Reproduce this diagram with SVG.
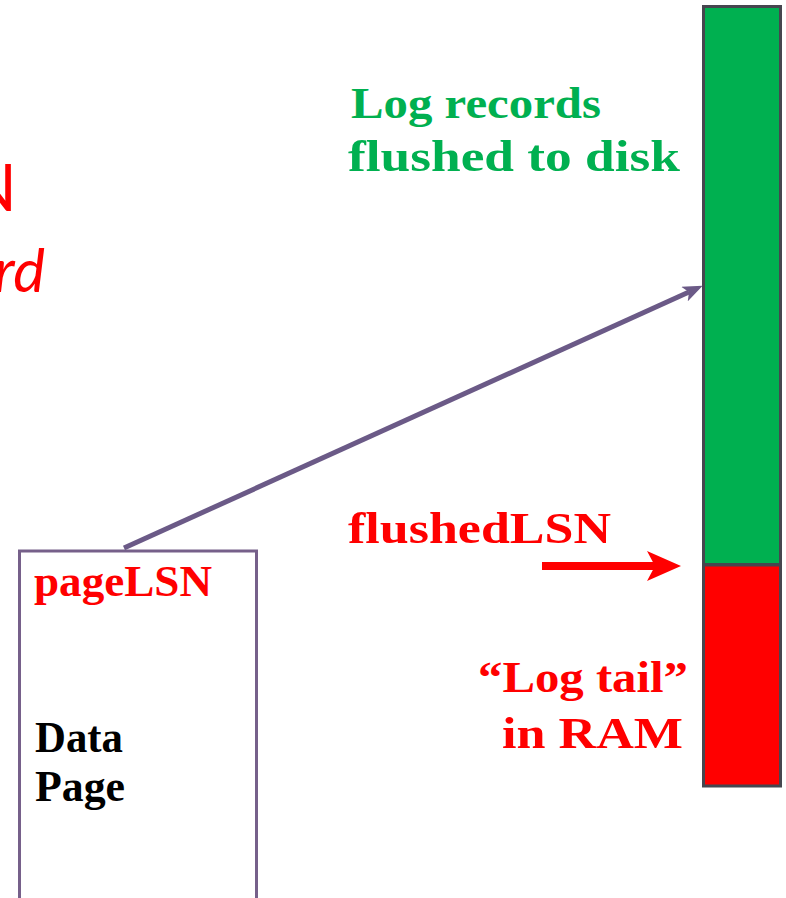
<svg xmlns="http://www.w3.org/2000/svg" width="786" height="898" viewBox="0 0 786 898">
  <style>
    .lbl { font-family: "Liberation Serif", "Times New Roman", serif; font-weight: bold; font-size: 45px; }
    .red { fill: #FF0000; }
    .green { fill: #00B050; }
    .black { fill: #000000; }
    .side { font-family: Lato, "Open Sans", sans-serif; fill: #FF0000; }
    .logbar { stroke: #46464F; stroke-width: 3; }
  </style>
  <defs>
    <marker id="headPurple" viewBox="0 -8 20 16" refX="5" refY="0" markerWidth="20" markerHeight="16" markerUnits="userSpaceOnUse" orient="auto">
      <path d="M0,-8 L20,0 L0,8 L5,0 Z" fill="#6B5A87"/>
    </marker>
    <marker id="headRed" viewBox="0 -15 34 30" refX="8" refY="0" markerWidth="34" markerHeight="30" markerUnits="userSpaceOnUse" orient="auto">
      <path d="M0,-15 L34,0 L0,15 L8,0 Z" fill="#FF0000"/>
    </marker>
  </defs>

  <!-- clipped text at the left edge -->
  <g id="edge-text">
    <text class="side" x="17" y="211" font-size="66" text-anchor="end">N</text>
    <text class="side" x="45" y="292" font-size="60" font-style="italic" text-anchor="end">rd</text>
  </g>

  <!-- the log on disk and its in-memory tail -->
  <g id="log">
    <rect class="logbar" x="703.5" y="6.5" width="77" height="558" fill="#00B050"/>
    <rect class="logbar" x="703.5" y="565" width="77" height="221" fill="#FF0000"/>
  </g>

  <g id="log-label">
    <text class="lbl green" x="351" y="118" font-size="48" textLength="250" lengthAdjust="spacingAndGlyphs">Log records</text>
    <text class="lbl green" x="348" y="171" font-size="48" textLength="332" lengthAdjust="spacingAndGlyphs">flushed to disk</text>
  </g>

  <g id="flushed-lsn">
    <text class="lbl red" x="348" y="543" textLength="263" lengthAdjust="spacingAndGlyphs">flushedLSN</text>
  </g>

  <g id="log-tail">
    <text class="lbl red" x="478" y="692" textLength="210" lengthAdjust="spacingAndGlyphs">“Log tail”</text>
    <text class="lbl red" x="502" y="748" textLength="181" lengthAdjust="spacingAndGlyphs">in RAM</text>
  </g>

  <!-- data page -->
  <g id="data-page">
    <rect x="19.5" y="551" width="237" height="370" fill="none" stroke="#76608A" stroke-width="3"/>
    <text class="lbl red" x="34" y="596" font-size="41" textLength="178" lengthAdjust="spacingAndGlyphs">pageLSN</text>
    <text class="lbl black" x="35" y="752" textLength="88" lengthAdjust="spacingAndGlyphs">Data</text>
    <text class="lbl black" x="35" y="801" textLength="90" lengthAdjust="spacingAndGlyphs">Page</text>
  </g>

  <!-- connectors -->
  <g id="connectors">
    <line x1="124" y1="548" x2="689" y2="292" stroke="#6B5A87" stroke-width="5" marker-end="url(#headPurple)"/>
    <line x1="542" y1="566" x2="655" y2="566" stroke="#FF0000" stroke-width="8" marker-end="url(#headRed)"/>
  </g>
</svg>
